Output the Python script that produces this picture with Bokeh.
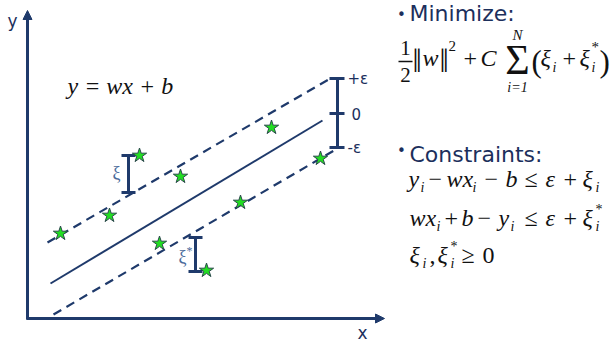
from bokeh.plotting import figure
from bokeh.models import Range1d, Arrow, NormalHead
from bokeh.core.properties import value
from bokeh.embed import file_html
from bokeh.resources import INLINE

# ---- data (picture-pixel coordinate system, y grows downward) ----
star_x = [60, 109, 139, 180, 159, 240, 206, 271, 320]
star_y = [233, 215, 155, 176, 243, 202, 270, 127, 158]

solid_x = [50, 322]
solid_y = [283, 120]
upper_x = [47, 328]
upper_y = [242, 79]
lower_x = [53, 337]
lower_y = [314, 148]

eps_bar_x = 337
eps_levels = [78, 113, 147]
eps_labels = ["+ε", "0", "-ε"]

xi_bar = dict(x=128, y0=155, y1=192)
xis_bar = dict(x=195, y0=237, y1=271)

axis_origin = (27, 318)
axis_x_end = 384
axis_y_end = 10

NAVY = "#1F3A6B"
TXT_NAVY = "#1C2F5C"
BLACK = "#111111"
SERIF = "Liberation Serif"
SANS = "DejaVu Sans"

W, H = 611, 341
p = figure(width=W, height=H, output_backend="svg", toolbar_location=None,
           x_range=Range1d(0, W), y_range=Range1d(H, 0),
           min_border=0, outline_line_color=None)
p.axis.visible = False
p.grid.visible = False
p.background_fill_color = "white"
p.border_fill_color = "white"

# axes with arrows
ox, oy = axis_origin
p.add_layout(Arrow(x_start=ox, y_start=oy + 1, x_end=ox, y_end=axis_y_end, line_color=NAVY, line_width=3,
                   end=NormalHead(size=9, fill_color=NAVY, line_color=NAVY)))
p.add_layout(Arrow(x_start=ox - 1, y_start=oy, x_end=axis_x_end, y_end=oy, line_color=NAVY, line_width=3,
                   end=NormalHead(size=9, fill_color=NAVY, line_color=NAVY)))

# regression line and epsilon tube
p.line(solid_x, solid_y, line_color=NAVY, line_width=2)
p.line(upper_x, upper_y, line_color=NAVY, line_width=2.2, line_dash="9 6")
p.line(lower_x, lower_y, line_color=NAVY, line_width=2.2, line_dash="9 6")

# epsilon bar
p.segment(x0=[eps_bar_x], y0=[eps_levels[0]], x1=[eps_bar_x], y1=[eps_levels[-1]], line_color=NAVY, line_width=3)
p.segment(x0=[eps_bar_x - 8] * 3, y0=eps_levels, x1=[eps_bar_x + 7] * 3, y1=eps_levels, line_color=NAVY, line_width=3)

# slack bars
for b in (xi_bar, xis_bar):
    p.segment(x0=[b["x"]], y0=[b["y0"]], x1=[b["x"]], y1=[b["y1"]], line_color=NAVY, line_width=3)
    p.segment(x0=[b["x"] - 7] * 2, y0=[b["y0"], b["y1"]], x1=[b["x"] + 7] * 2, y1=[b["y0"], b["y1"]],
              line_color=NAVY, line_width=3)

# data points
p.scatter(star_x, star_y, marker="star", size=15, fill_color="#22DD22", line_color="#2A4A4A", line_width=1)


def t(x, y, s, size, font=SERIF, style="italic", color=BLACK, align="left", base=True):
    """Place text; if base is True, y is an alphabetic baseline converted to a middle position."""
    if base:
        k = 0.34 if font == SERIF else 0.35
        y = y - k * size
    p.text(x=[x], y=[y], text=[s], text_font=value(font), text_font_size=f"{size}px",
           text_font_style=style, text_color=color, text_align=align, text_baseline="middle")


# labels on the plot
t(12, 20, "y", 17, SANS, "normal", TXT_NAVY, "center", base=False)
t(362, 332, "x", 17, SANS, "normal", TXT_NAVY, "center", base=False)
t(67, 94, "y = wx + b", 24, SERIF, "italic", BLACK)
for lvl, lab in zip(eps_levels, eps_labels):
    t(eps_bar_x + 10 if lab != "0" else eps_bar_x + 14, lvl, lab, 15, SANS, "normal", TXT_NAVY, "left", base=False)
t(116, 172, "ξ", 18, SERIF, "normal", "#4A6A9A", "center", base=False)
t(182, 256, "ξ", 18, SERIF, "normal", "#4A6A9A", "center", base=False)
t(189, 250, "*", 12, SERIF, "normal", "#4A6A9A", "center", base=False)

# right panel: Minimize
t(401, 14, "•", 15, SANS, "normal", TXT_NAVY, "center", base=False)
t(409, 13, "Minimize:", 22, SANS, "normal", TXT_NAVY, base=False)
m = 66  # main formula baseline
t(405, 55, "1", 21, SERIF, "normal", align="center")
p.segment(x0=[398], y0=[61], x1=[412], y1=[61], line_color=BLACK, line_width=1.3)
t(405, 82, "2", 21, SERIF, "normal", align="center")
t(412, m + 6, "‖", 33, SERIF, "normal")
t(422, m, "w", 24)
t(439, m + 6, "‖", 33, SERIF, "normal")
t(448, m - 15, "2", 15, SERIF, "normal")
t(463, m, "+", 24, SERIF, "normal")
t(480, m, "C", 24)
t(517, m + 8, "Σ", 42, SERIF, "normal", align="center")
t(517, 40, "N", 15, align="center")
t(517, 92, "i=1", 14, align="center")
t(531, m + 6, "(", 31, SERIF, "normal")
t(540, m, "ξ", 24)
t(552, m + 6, "i", 14)
t(562, m, "+", 24, SERIF, "normal")
t(579, m, "ξ", 24)
t(591, m - 14, "*", 15, SERIF, "normal")
t(591, m + 6, "i", 14)
t(599, m + 6, ")", 31, SERIF, "normal")

# right panel: Constraints
t(401, 150, "•", 15, SANS, "normal", TXT_NAVY, "center", base=False)
t(409, 154, "Constraints:", 22, SANS, "normal", TXT_NAVY, base=False)

# line 1
b1 = 187
t(408, b1, "y", 24); t(420, b1 + 5, "i", 14)
t(428, b1, "−", 24, SERIF, "normal")
t(446, b1, "wx", 24); t(472, b1 + 5, "i", 14)
t(484, b1, "−", 24, SERIF, "normal")
t(505, b1, "b", 24)
t(524, b1, "≤", 24, SERIF, "normal")
t(545, b1, "ε", 24)
t(563, b1, "+", 24, SERIF, "normal")
t(582, b1, "ξ", 24); t(595, b1 + 5, "i", 14)

# line 2
b2 = 226
t(409, b2, "wx", 24); t(436, b2 + 5, "i", 14)
t(444, b2, "+", 24, SERIF, "normal")
t(461, b2, "b", 24)
t(477, b2, "−", 24, SERIF, "normal")
t(498, b2, "y", 24); t(510, b2 + 5, "i", 14)
t(524, b2, "≤", 24, SERIF, "normal")
t(545, b2, "ε", 24)
t(563, b2, "+", 24, SERIF, "normal")
t(582, b2, "ξ", 24); t(595, b2 - 12, "*", 14, SERIF, "normal"); t(595, b2 + 5, "i", 14)

# line 3
b3 = 263
t(409, b3, "ξ", 24); t(422, b3 + 5, "i", 14)
t(429, b3, ",", 24, SERIF, "normal")
t(437, b3, "ξ", 24); t(450, b3 - 12, "*", 14, SERIF, "normal"); t(450, b3 + 5, "i", 14)
t(461, b3, "≥", 24, SERIF, "normal")
t(482, b3, "0", 24, SERIF, "normal")

open("out.html", "w").write(file_html(p, INLINE))
